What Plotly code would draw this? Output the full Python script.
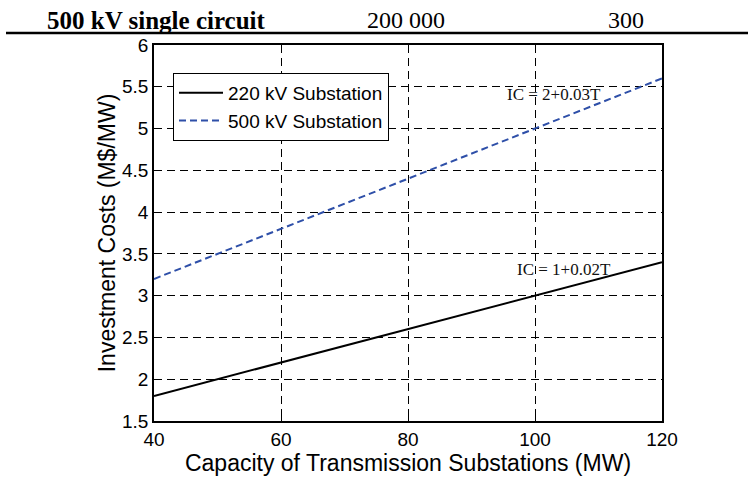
import plotly.graph_objects as go

capacity = [40, 60, 80, 100, 120]
cost_220 = [1.8, 2.2, 2.6, 3.0, 3.4]
cost_500 = [3.2, 3.8, 4.4, 5.0, 5.6]
series_names = ["220 kV Substation", "500 kV Substation"]
x_ticks = [40, 60, 80, 100, 120]
y_ticks = [1.5, 2, 2.5, 3, 3.5, 4, 4.5, 5, 5.5, 6]
header_texts = ["500 kV single circuit", "200 000", "300"]
equation_texts = ["IC = 2+0.03T", "IC = 1+0.02T"]

L, R, T, B = 154, 662, 45, 423
W, H = 748, 480
PW, PH = R - L, B - T


def px(x):
    return (x - L) / PW


def py(y):
    return (B - y) / PH


fig = go.Figure()
fig.add_trace(go.Scatter(x=capacity, y=cost_220, mode="lines", name=series_names[0],
                         line=dict(color="black", width=2)))
fig.add_trace(go.Scatter(x=capacity, y=cost_500, mode="lines", name=series_names[1],
                         line=dict(color="#2e4fa8", width=2, dash="7px,4px")))

axis_common = dict(showline=True, linecolor="black", linewidth=1.5, mirror=True,
                   ticks="inside", ticklen=5, tickcolor="black",
                   showgrid=True, gridcolor="black", gridwidth=1, griddash="8px,5px",
                   zeroline=False, tickfont=dict(family="Liberation Sans", size=19, color="black"))

fig.update_xaxes(range=[40, 120], tickvals=x_ticks,
                 title=dict(text="Capacity of Transmission Substations (MW)",
                            font=dict(family="Liberation Sans", size=23, color="black"), standoff=2),
                 **axis_common)
fig.update_yaxes(range=[1.5, 6], tickvals=y_ticks,
                 title=dict(text="Investment Costs (M$/MW)",
                            font=dict(family="Liberation Sans", size=23, color="black"), standoff=0),
                 **axis_common)

fig.add_annotation(x=103, y=5.405, xref="x", yref="y", text=equation_texts[0], showarrow=False,
                   xanchor="center", yanchor="middle",
                   font=dict(family="Liberation Serif", size=17, color="#111"))
fig.add_annotation(x=104.5, y=3.31, xref="x", yref="y", text=equation_texts[1], showarrow=False,
                   xanchor="center", yanchor="middle",
                   font=dict(family="Liberation Serif", size=17, color="#111"))

# header fragment (table row above the figure)
fig.add_shape(type="line", xref="paper", yref="paper", x0=px(6), x1=px(748), y0=py(33), y1=py(33),
              line=dict(color="black", width=2.5))
fig.add_annotation(x=px(156), y=py(20), xref="paper", yref="paper", text="<b>" + header_texts[0] + "</b>",
                   showarrow=False, xanchor="center", yanchor="middle",
                   font=dict(family="Liberation Serif", size=25, color="black"))
fig.add_annotation(x=px(406), y=py(20), xref="paper", yref="paper", text=header_texts[1],
                   showarrow=False, xanchor="center", yanchor="middle",
                   font=dict(family="Liberation Serif", size=24, color="black"))
fig.add_annotation(x=px(626), y=py(20), xref="paper", yref="paper", text=header_texts[2],
                   showarrow=False, xanchor="center", yanchor="middle",
                   font=dict(family="Liberation Serif", size=24, color="black"))

fig.update_layout(
    width=W, height=H,
    margin=dict(l=L, r=W - R, t=T, b=H - B),
    paper_bgcolor="white", plot_bgcolor="white",
    showlegend=True,
    legend=dict(x=px(173), y=py(73), xanchor="left", yanchor="top",
                bgcolor="white", bordercolor="black", borderwidth=1,
                font=dict(family="Liberation Sans", size=19, color="black"),
                tracegroupgap=0, itemwidth=44),
)

fig.write_html("out.html", config={"displayModeBar": False},
               post_script="document.body.style.margin='0';")
